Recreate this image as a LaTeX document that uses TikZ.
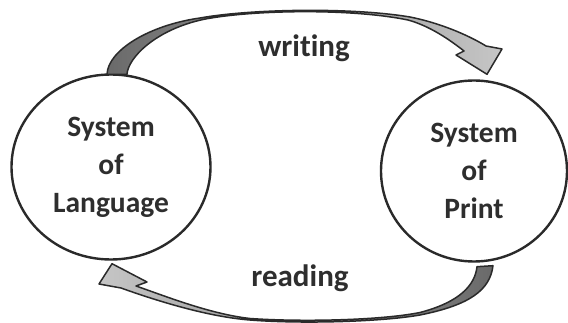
\documentclass[tikz,border=0pt]{standalone}
\usepackage{fontspec}
\setmainfont{Carlito}[Ligatures=NoCommon]
\usetikzlibrary{shapes.geometric,calc}
\definecolor{ink}{HTML}{2A2A2A}
\definecolor{txt}{HTML}{2E2E2E}
\definecolor{shade}{HTML}{C6C6C6}
\definecolor{darkshade}{HTML}{6A6A6A}
\tikzset{
  system/.style={ellipse, draw=ink, line width=2.4pt, inner sep=0pt,
    align=center, text=txt, font=\fontsize{29.5}{38}\selectfont\bfseries},
  flowlabel/.style={anchor=base, text=txt, font=\fontsize{31}{36}\selectfont\bfseries},
  blockarrow/.style={draw=ink, line width=1.5pt, line join=round},
}
\begin{document}
\begin{tikzpicture}[x=1pt,y=-1pt]
\useasboundingbox (0,0) rectangle (568,323);

% the two systems
\node[system, minimum width=199pt, minimum height=185pt] (lang) at (111,167)
  {System\\of\\Language};
\node[system, minimum width=186pt, minimum height=181pt] (print) at (474,171)
  {System\\of\\Print};

% labels of the two directions
\node[flowlabel] (wlab) at (304,57) {writing};
\node[flowlabel] (rlab) at (300,287) {reading};

% ends of the curved block arrows
\coordinate (wtailA) at ($(lang.north)+(-4,1)$);
\coordinate (wtailB) at ($(lang.north)+(16,1)$);
\coordinate (wtip)   at ($(print.north)+(13,-5)$);
\coordinate (rtailA) at ($(print.south)+(3,4)$);
\coordinate (rtailB) at ($(print.south)+(19,3)$);
\coordinate (rtip)   at ($(lang.south)+(1,3)$);

% writing: language -> print, over the top (dark tail, thin middle, light head)
\path[blockarrow, left color=darkshade, right color=shade] (wtailA)
  .. controls (108,50) and (150,25) .. (200,18)
  .. controls (250,9) and (350,7) .. (410,17)
  .. controls (440,23) and (468,35) .. (486,46)
  -- (502,49) -- (wtip) -- (456,55) -- (464,51)
  .. controls (450,40) and (430,26) .. (408,20)
  .. controls (350,8) and (250,10) .. (203,19.5)
  .. controls (155,30) and (128,58) .. (wtailB) -- cycle;

% reading: print -> language, under the bottom (dark tail, thin middle, light head)
\path[blockarrow, left color=shade, right color=darkshade] (rtailB)
  .. controls (490,290) and (470,305) .. (420,315)
  .. controls (380,322) and (300,324) .. (250,320)
  .. controls (210,317) and (160,302) .. (121,288)
  -- (99,284) -- (rtip) -- (147,282) -- (136,286)
  .. controls (165,296) and (210,314) .. (250,318.5)
  .. controls (300,322) and (380,320.5) .. (420,312.5)
  .. controls (460,302) and (475,285) .. (rtailA) -- cycle;
\end{tikzpicture}
\end{document}
